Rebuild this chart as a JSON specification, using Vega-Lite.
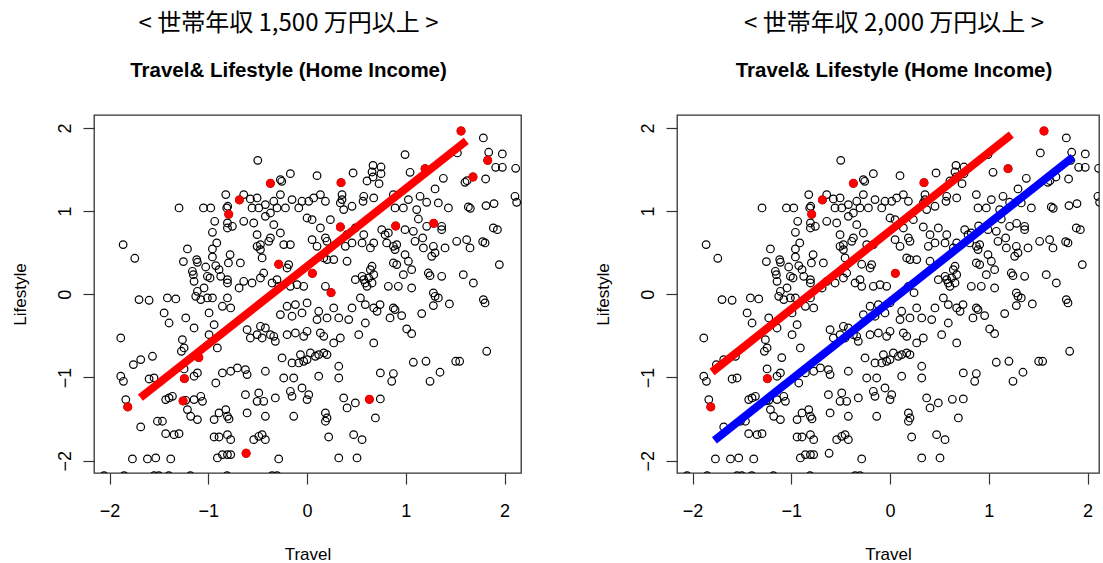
{
  "$schema": "https://vega.github.io/schema/vega-lite/v6.json",
  "background": "white",
  "padding": {"left": 10, "top": 10, "right": 0, "bottom": 0},
  "spacing": 71,
  "config": {
    "view": {"stroke": "#333", "strokeWidth": 1.3},
    "axis": {"grid": false, "domain": false, "tickSize": 11, "tickColor": "#333", "tickWidth": 1.2, "labelFont": "Liberation Sans", "labelFontSize": 18, "labelColor": "#000", "titleFont": "Liberation Sans", "titleFontSize": 17, "titleFontWeight": "normal", "titleColor": "#000"},
    "axisX": {"labelPadding": 18, "titlePadding": 26},
    "axisY": {"labelAngle": -90, "labelAlign": "center", "labelBaseline": "alphabetic", "labelPadding": 13, "titlePadding": 27},
    "title": {"font": "Noto Sans CJK JP", "fontSize": 24, "fontWeight": "normal", "color": "#000", "subtitleFont": "Liberation Sans", "subtitleFontSize": 20.5, "subtitleFontWeight": "bold", "subtitleColor": "#000", "subtitlePadding": 25, "offset": 34, "anchor": "middle"}
  },
  "datasets": {
    "fits": [
      {"panel": "1500", "line": "subset", "Travel": -1.687, "Lifestyle": -1.243},
      {"panel": "1500", "line": "subset", "Travel": 1.612, "Lifestyle": 1.843},
      {"panel": "2000", "line": "subset", "Travel": -1.802, "Lifestyle": -0.934},
      {"panel": "2000", "line": "subset", "Travel": 1.228, "Lifestyle": 1.920},
      {"panel": "2000", "line": "overall", "Travel": -1.778, "Lifestyle": -1.755},
      {"panel": "2000", "line": "overall", "Travel": 1.852, "Lifestyle": 1.650}
    ],
    "pts": [
      {"Travel":1.785,"Lifestyle":1.879,"grp":"base"},{"Travel":1.522,"Lifestyle":1.699,"grp":"base"},{"Travel":1.839,"Lifestyle":1.707,"grp":"base"},{"Travel":1.977,"Lifestyle":1.687,"grp":"base"},{"Travel":1.910,"Lifestyle":1.526,"grp":"base"},{"Travel":1.977,"Lifestyle":1.526,"grp":"base"},{"Travel":2.112,"Lifestyle":1.514,"grp":"base"},{"Travel":1.808,"Lifestyle":1.386,"grp":"base"},{"Travel":1.620,"Lifestyle":1.366,"grp":"base"},{"Travel":1.599,"Lifestyle":1.346,"grp":"base"},{"Travel":0.992,"Lifestyle":1.679,"grp":"base"},{"Travel":-0.499,"Lifestyle":1.610,"grp":"base"},{"Travel":0.668,"Lifestyle":1.550,"grp":"base"},{"Travel":0.749,"Lifestyle":1.530,"grp":"base"},{"Travel":0.658,"Lifestyle":1.470,"grp":"base"},{"Travel":0.749,"Lifestyle":1.450,"grp":"base"},{"Travel":0.668,"Lifestyle":1.410,"grp":"base"},{"Travel":0.607,"Lifestyle":1.362,"grp":"base"},{"Travel":0.729,"Lifestyle":1.330,"grp":"base"},{"Travel":0.466,"Lifestyle":1.458,"grp":"base"},{"Travel":1.043,"Lifestyle":1.466,"grp":"base"},{"Travel":-0.169,"Lifestyle":1.450,"grp":"base"},{"Travel":0.101,"Lifestyle":1.426,"grp":"base"},{"Travel":-0.270,"Lifestyle":1.378,"grp":"base"},{"Travel":-0.256,"Lifestyle":1.358,"grp":"base"},{"Travel":1.380,"Lifestyle":1.394,"grp":"base"},
      {"Travel":1.296,"Lifestyle":1.266,"grp":"base"},{"Travel":-0.823,"Lifestyle":1.198,"grp":"base"},{"Travel":-0.641,"Lifestyle":1.198,"grp":"base"},{"Travel":-0.574,"Lifestyle":1.146,"grp":"base"},{"Travel":-0.506,"Lifestyle":1.158,"grp":"base"},{"Travel":-0.337,"Lifestyle":1.118,"grp":"base"},{"Travel":-0.270,"Lifestyle":1.198,"grp":"base"},{"Travel":-0.152,"Lifestyle":1.138,"grp":"base"},{"Travel":-0.051,"Lifestyle":1.118,"grp":"base"},{"Travel":0.017,"Lifestyle":1.118,"grp":"base"},{"Travel":0.067,"Lifestyle":1.158,"grp":"base"},{"Travel":0.135,"Lifestyle":1.198,"grp":"base"},{"Travel":0.186,"Lifestyle":1.118,"grp":"base"},{"Travel":0.354,"Lifestyle":1.198,"grp":"base"},{"Travel":0.354,"Lifestyle":1.138,"grp":"base"},{"Travel":0.337,"Lifestyle":1.098,"grp":"base"},{"Travel":0.574,"Lifestyle":1.178,"grp":"base"},{"Travel":0.567,"Lifestyle":1.118,"grp":"base"},{"Travel":0.675,"Lifestyle":1.158,"grp":"base"},{"Travel":0.874,"Lifestyle":1.198,"grp":"base"},{"Travel":1.144,"Lifestyle":1.178,"grp":"base"},{"Travel":1.026,"Lifestyle":1.138,"grp":"base"},{"Travel":1.211,"Lifestyle":1.106,"grp":"base"},{"Travel":1.329,"Lifestyle":1.098,"grp":"base"},{"Travel":2.105,"Lifestyle":1.178,"grp":"base"},{"Travel":2.122,"Lifestyle":1.106,"grp":"base"},{"Travel":-1.296,"Lifestyle":1.038,"grp":"base"},{"Travel":-1.049,"Lifestyle":1.038,"grp":"base"},{"Travel":-0.975,"Lifestyle":1.038,"grp":"base"},{"Travel":-0.813,"Lifestyle":1.038,"grp":"base"},{"Travel":-0.803,"Lifestyle":1.058,"grp":"base"},{"Travel":-0.557,"Lifestyle":1.038,"grp":"base"},{"Travel":-0.489,"Lifestyle":1.038,"grp":"base"},{"Travel":-0.422,"Lifestyle":1.078,"grp":"base"},{"Travel":-0.304,"Lifestyle":1.038,"grp":"base"},{"Travel":-0.219,"Lifestyle":1.038,"grp":"base"},{"Travel":-0.084,"Lifestyle":1.038,"grp":"base"},{"Travel":0.371,"Lifestyle":1.018,"grp":"base"},{"Travel":0.455,"Lifestyle":1.058,"grp":"base"},{"Travel":0.891,"Lifestyle":1.038,"grp":"base"},{"Travel":0.975,"Lifestyle":1.038,"grp":"base"},{"Travel":1.110,"Lifestyle":1.018,"grp":"base"},{"Travel":1.431,"Lifestyle":1.038,"grp":"base"},{"Travel":1.633,"Lifestyle":1.050,"grp":"base"},{"Travel":1.653,"Lifestyle":1.034,"grp":"base"},{"Travel":1.812,"Lifestyle":1.066,"grp":"base"},{"Travel":1.893,"Lifestyle":1.090,"grp":"base"},{"Travel":-0.371,"Lifestyle":0.977,"grp":"base"},{"Travel":-0.935,"Lifestyle":0.877,"grp":"base"},{"Travel":-0.806,"Lifestyle":0.857,"grp":"base"},{"Travel":-0.756,"Lifestyle":0.817,"grp":"base"},{"Travel":-0.806,"Lifestyle":0.797,"grp":"base"},{"Travel":-0.641,"Lifestyle":0.877,"grp":"base"},{"Travel":-0.540,"Lifestyle":0.857,"grp":"base"},{"Travel":-0.422,"Lifestyle":0.937,"grp":"base"},{"Travel":-0.337,"Lifestyle":0.837,"grp":"base"},{"Travel":0.000,"Lifestyle":0.917,"grp":"base"},{"Travel":0.051,"Lifestyle":0.897,"grp":"base"},{"Travel":0.236,"Lifestyle":0.897,"grp":"base"},{"Travel":0.135,"Lifestyle":0.797,"grp":"base"},{"Travel":0.489,"Lifestyle":0.797,"grp":"base"},{"Travel":1.127,"Lifestyle":0.905,"grp":"base"},{"Travel":1.211,"Lifestyle":0.817,"grp":"base"},{"Travel":1.363,"Lifestyle":0.817,"grp":"base"},{"Travel":1.363,"Lifestyle":0.777,"grp":"base"},{"Travel":0.756,"Lifestyle":0.777,"grp":"base"},{"Travel":0.823,"Lifestyle":0.737,"grp":"base"},{"Travel":0.992,"Lifestyle":0.777,"grp":"base"},{"Travel":1.076,"Lifestyle":0.757,"grp":"base"},{"Travel":1.886,"Lifestyle":0.797,"grp":"base"},{"Travel":1.927,"Lifestyle":0.777,"grp":"base"},{"Travel":-0.958,"Lifestyle":0.745,"grp":"base"},
      {"Travel":-0.506,"Lifestyle":0.717,"grp":"base"},{"Travel":-0.270,"Lifestyle":0.737,"grp":"base"},{"Travel":-0.371,"Lifestyle":0.677,"grp":"base"},{"Travel":-0.388,"Lifestyle":0.637,"grp":"base"},{"Travel":-0.236,"Lifestyle":0.597,"grp":"base"},{"Travel":-0.169,"Lifestyle":0.597,"grp":"base"},{"Travel":-0.472,"Lifestyle":0.597,"grp":"base"},{"Travel":-0.506,"Lifestyle":0.577,"grp":"base"},{"Travel":-0.472,"Lifestyle":0.537,"grp":"base"},{"Travel":-0.455,"Lifestyle":0.437,"grp":"base"},{"Travel":0.051,"Lifestyle":0.657,"grp":"base"},{"Travel":0.101,"Lifestyle":0.577,"grp":"base"},{"Travel":0.186,"Lifestyle":0.677,"grp":"base"},{"Travel":0.202,"Lifestyle":0.637,"grp":"base"},{"Travel":0.405,"Lifestyle":0.717,"grp":"base"},{"Travel":0.388,"Lifestyle":0.577,"grp":"base"},{"Travel":0.455,"Lifestyle":0.617,"grp":"base"},{"Travel":0.574,"Lifestyle":0.717,"grp":"base"},{"Travel":0.557,"Lifestyle":0.617,"grp":"base"},{"Travel":0.675,"Lifestyle":0.617,"grp":"base"},{"Travel":0.641,"Lifestyle":0.557,"grp":"base"},{"Travel":0.790,"Lifestyle":0.717,"grp":"base"},{"Travel":0.806,"Lifestyle":0.617,"grp":"base"},{"Travel":0.874,"Lifestyle":0.577,"grp":"base"},{"Travel":0.908,"Lifestyle":0.597,"grp":"base"},{"Travel":0.891,"Lifestyle":0.537,"grp":"base"},{"Travel":0.992,"Lifestyle":0.477,"grp":"base"},{"Travel":1.171,"Lifestyle":0.677,"grp":"base"},{"Travel":1.093,"Lifestyle":0.637,"grp":"base"},{"Travel":1.178,"Lifestyle":0.557,"grp":"base"},{"Travel":1.279,"Lifestyle":0.577,"grp":"base"},{"Travel":1.397,"Lifestyle":0.557,"grp":"base"},{"Travel":1.262,"Lifestyle":0.457,"grp":"base"},{"Travel":1.296,"Lifestyle":0.497,"grp":"base"},{"Travel":1.515,"Lifestyle":0.637,"grp":"base"},{"Travel":1.616,"Lifestyle":0.657,"grp":"base"},{"Travel":1.650,"Lifestyle":0.557,"grp":"base"},{"Travel":1.802,"Lifestyle":0.617,"grp":"base"},{"Travel":1.778,"Lifestyle":0.633,"grp":"base"},{"Travel":-1.862,"Lifestyle":0.597,"grp":"base"},{"Travel":-1.744,"Lifestyle":0.433,"grp":"base"},{"Travel":-1.211,"Lifestyle":0.545,"grp":"base"},{"Travel":-0.958,"Lifestyle":0.545,"grp":"base"},{"Travel":-0.914,"Lifestyle":0.617,"grp":"base"},{"Travel":-1.252,"Lifestyle":0.393,"grp":"base"},{"Travel":-1.117,"Lifestyle":0.417,"grp":"base"},{"Travel":-1.110,"Lifestyle":0.385,"grp":"base"},{"Travel":-0.958,"Lifestyle":0.449,"grp":"base"},{"Travel":-0.779,"Lifestyle":0.477,"grp":"base"},{"Travel":-1.026,"Lifestyle":0.328,"grp":"base"},{"Travel":-0.924,"Lifestyle":0.345,"grp":"base"},{"Travel":-0.891,"Lifestyle":0.296,"grp":"base"},{"Travel":-1.009,"Lifestyle":0.216,"grp":"base"},{"Travel":-1.161,"Lifestyle":0.276,"grp":"base"},{"Travel":-1.151,"Lifestyle":0.236,"grp":"base"},{"Travel":-1.144,"Lifestyle":0.156,"grp":"base"},{"Travel":-0.796,"Lifestyle":0.377,"grp":"base"},{"Travel":-0.874,"Lifestyle":0.216,"grp":"base"},{"Travel":-0.806,"Lifestyle":0.176,"grp":"base"},{"Travel":-0.806,"Lifestyle":0.136,"grp":"base"},{"Travel":-0.982,"Lifestyle":0.196,"grp":"base"},{"Travel":-1.043,"Lifestyle":0.076,"grp":"base"},{"Travel":-1.110,"Lifestyle":0.036,"grp":"base"},{"Travel":-0.688,"Lifestyle":0.076,"grp":"base"},{"Travel":-0.675,"Lifestyle":0.377,"grp":"base"},{"Travel":-0.641,"Lifestyle":0.156,"grp":"base"},{"Travel":-0.557,"Lifestyle":0.136,"grp":"base"},{"Travel":-0.472,"Lifestyle":0.196,"grp":"base"},{"Travel":-0.439,"Lifestyle":0.256,"grp":"base"},{"Travel":-0.354,"Lifestyle":0.136,"grp":"base"},{"Travel":-0.304,"Lifestyle":0.176,"grp":"base"},{"Travel":-0.287,"Lifestyle":0.096,"grp":"base"},{"Travel":-0.169,"Lifestyle":0.096,"grp":"base"},{"Travel":-0.101,"Lifestyle":0.116,"grp":"base"},{"Travel":-0.034,"Lifestyle":0.096,"grp":"base"},{"Travel":-0.186,"Lifestyle":0.357,"grp":"base"},{"Travel":-0.202,"Lifestyle":0.316,"grp":"base"},{"Travel":0.169,"Lifestyle":0.437,"grp":"base"},{"Travel":0.202,"Lifestyle":0.417,"grp":"base"},{"Travel":0.270,"Lifestyle":0.417,"grp":"base"},{"Travel":0.405,"Lifestyle":0.397,"grp":"base"},{"Travel":0.186,"Lifestyle":0.096,"grp":"base"},{"Travel":0.489,"Lifestyle":0.176,"grp":"base"},{"Travel":0.557,"Lifestyle":0.216,"grp":"base"},{"Travel":0.574,"Lifestyle":0.176,"grp":"base"},{"Travel":0.590,"Lifestyle":0.136,"grp":"base"},{"Travel":0.658,"Lifestyle":0.337,"grp":"base"},{"Travel":0.641,"Lifestyle":0.296,"grp":"base"},{"Travel":0.675,"Lifestyle":0.236,"grp":"base"},{"Travel":0.624,"Lifestyle":0.196,"grp":"base"},{"Travel":0.658,"Lifestyle":0.136,"grp":"base"},{"Travel":0.607,"Lifestyle":0.096,"grp":"base"},{"Travel":0.874,"Lifestyle":0.377,"grp":"base"},{"Travel":0.908,"Lifestyle":0.357,"grp":"base"},{"Travel":0.975,"Lifestyle":0.236,"grp":"base"},{"Travel":1.026,"Lifestyle":0.397,"grp":"base"},{"Travel":1.059,"Lifestyle":0.296,"grp":"base"},{"Travel":1.228,"Lifestyle":0.256,"grp":"base"},{"Travel":1.245,"Lifestyle":0.224,"grp":"base"},{"Travel":1.363,"Lifestyle":0.216,"grp":"base"},{"Travel":1.582,"Lifestyle":0.236,"grp":"base"},{"Travel":1.684,"Lifestyle":0.136,"grp":"base"},{"Travel":1.947,"Lifestyle":0.357,"grp":"base"},{"Travel":0.823,"Lifestyle":0.096,"grp":"base"},{"Travel":0.924,"Lifestyle":0.096,"grp":"base"},{"Travel":1.059,"Lifestyle":0.076,"grp":"base"},{"Travel":1.279,"Lifestyle":0.016,"grp":"base"},
      {"Travel":-1.701,"Lifestyle":-0.064,"grp":"base"},{"Travel":-1.599,"Lifestyle":-0.072,"grp":"base"},{"Travel":-1.414,"Lifestyle":-0.044,"grp":"base"},{"Travel":-1.329,"Lifestyle":-0.056,"grp":"base"},{"Travel":-1.447,"Lifestyle":-0.224,"grp":"base"},{"Travel":-1.397,"Lifestyle":-0.345,"grp":"base"},{"Travel":-1.228,"Lifestyle":-0.284,"grp":"base"},{"Travel":-1.144,"Lifestyle":-0.405,"grp":"base"},{"Travel":-1.127,"Lifestyle":-0.024,"grp":"base"},{"Travel":-1.076,"Lifestyle":-0.064,"grp":"base"},{"Travel":-1.009,"Lifestyle":-0.044,"grp":"base"},{"Travel":-0.958,"Lifestyle":-0.044,"grp":"base"},{"Travel":-0.992,"Lifestyle":-0.224,"grp":"base"},{"Travel":-0.941,"Lifestyle":-0.365,"grp":"base"},{"Travel":-0.857,"Lifestyle":-0.144,"grp":"base"},{"Travel":-0.806,"Lifestyle":-0.044,"grp":"base"},{"Travel":-0.773,"Lifestyle":-0.164,"grp":"base"},{"Travel":-0.270,"Lifestyle":-0.244,"grp":"base"},{"Travel":-0.202,"Lifestyle":-0.144,"grp":"base"},{"Travel":-0.118,"Lifestyle":-0.124,"grp":"base"},{"Travel":-0.152,"Lifestyle":-0.264,"grp":"base"},{"Travel":-0.051,"Lifestyle":-0.224,"grp":"base"},{"Travel":0.000,"Lifestyle":-0.104,"grp":"base"},{"Travel":0.118,"Lifestyle":-0.204,"grp":"base"},{"Travel":0.101,"Lifestyle":-0.304,"grp":"base"},{"Travel":0.202,"Lifestyle":-0.284,"grp":"base"},{"Travel":0.270,"Lifestyle":-0.164,"grp":"base"},{"Travel":0.321,"Lifestyle":-0.284,"grp":"base"},{"Travel":0.455,"Lifestyle":-0.164,"grp":"base"},{"Travel":0.422,"Lifestyle":-0.304,"grp":"base"},{"Travel":0.540,"Lifestyle":-0.044,"grp":"base"},{"Travel":0.590,"Lifestyle":-0.124,"grp":"base"},{"Travel":0.675,"Lifestyle":-0.164,"grp":"base"},{"Travel":0.709,"Lifestyle":-0.204,"grp":"base"},{"Travel":0.590,"Lifestyle":-0.345,"grp":"base"},{"Travel":-0.607,"Lifestyle":-0.425,"grp":"base"},{"Travel":-0.574,"Lifestyle":-0.525,"grp":"base"},{"Travel":-0.506,"Lifestyle":-0.485,"grp":"base"},{"Travel":-0.472,"Lifestyle":-0.385,"grp":"base"},{"Travel":-0.455,"Lifestyle":-0.525,"grp":"base"},{"Travel":-0.422,"Lifestyle":-0.405,"grp":"base"},{"Travel":-0.371,"Lifestyle":-0.485,"grp":"base"},{"Travel":-0.337,"Lifestyle":-0.505,"grp":"base"},{"Travel":-0.321,"Lifestyle":-0.565,"grp":"base"},{"Travel":-0.202,"Lifestyle":-0.485,"grp":"base"},{"Travel":-0.118,"Lifestyle":-0.465,"grp":"base"},{"Travel":-0.034,"Lifestyle":-0.505,"grp":"base"},{"Travel":0.000,"Lifestyle":-0.445,"grp":"base"},{"Travel":0.135,"Lifestyle":-0.465,"grp":"base"},{"Travel":0.169,"Lifestyle":-0.505,"grp":"base"},{"Travel":0.270,"Lifestyle":-0.585,"grp":"base"},{"Travel":0.337,"Lifestyle":-0.525,"grp":"base"},{"Travel":0.523,"Lifestyle":-0.485,"grp":"base"},{"Travel":0.675,"Lifestyle":-0.585,"grp":"base"},{"Travel":0.874,"Lifestyle":-0.164,"grp":"base"},{"Travel":0.891,"Lifestyle":-0.184,"grp":"base"},{"Travel":0.840,"Lifestyle":-0.284,"grp":"base"},{"Travel":0.958,"Lifestyle":-0.256,"grp":"base"},{"Travel":1.009,"Lifestyle":-0.417,"grp":"base"},{"Travel":1.059,"Lifestyle":-0.473,"grp":"base"},{"Travel":1.161,"Lifestyle":-0.232,"grp":"base"},{"Travel":1.296,"Lifestyle":-0.024,"grp":"base"},{"Travel":1.329,"Lifestyle":-0.044,"grp":"base"},{"Travel":1.279,"Lifestyle":-0.136,"grp":"base"},{"Travel":1.441,"Lifestyle":-0.116,"grp":"base"},{"Travel":1.785,"Lifestyle":-0.064,"grp":"base"},{"Travel":1.802,"Lifestyle":-0.104,"grp":"base"},{"Travel":0.739,"Lifestyle":-0.124,"grp":"base"},
      {"Travel":-1.886,"Lifestyle":-0.525,"grp":"base"},{"Travel":-1.262,"Lifestyle":-0.545,"grp":"base"},{"Travel":-1.245,"Lifestyle":-0.645,"grp":"base"},{"Travel":-1.272,"Lifestyle":-0.685,"grp":"base"},{"Travel":-0.992,"Lifestyle":-0.485,"grp":"base"},{"Travel":-0.908,"Lifestyle":-0.645,"grp":"base"},{"Travel":-1.565,"Lifestyle":-0.745,"grp":"base"},{"Travel":-1.684,"Lifestyle":-0.785,"grp":"base"},{"Travel":-1.758,"Lifestyle":-0.845,"grp":"base"},{"Travel":-1.886,"Lifestyle":-0.985,"grp":"base"},{"Travel":-1.859,"Lifestyle":-1.046,"grp":"base"},{"Travel":-1.599,"Lifestyle":-1.018,"grp":"base"},{"Travel":-1.549,"Lifestyle":-1.006,"grp":"base"},{"Travel":-1.245,"Lifestyle":-0.897,"grp":"base"},{"Travel":-1.144,"Lifestyle":-0.985,"grp":"base"},{"Travel":-1.110,"Lifestyle":-0.945,"grp":"base"},{"Travel":-0.857,"Lifestyle":-0.945,"grp":"base"},{"Travel":-0.773,"Lifestyle":-0.925,"grp":"base"},{"Travel":-0.705,"Lifestyle":-0.885,"grp":"base"},{"Travel":-0.924,"Lifestyle":-1.066,"grp":"base"},{"Travel":-0.253,"Lifestyle":-0.765,"grp":"base"},{"Travel":-0.152,"Lifestyle":-0.825,"grp":"base"},{"Travel":-0.084,"Lifestyle":-0.825,"grp":"base"},{"Travel":-0.067,"Lifestyle":-0.725,"grp":"base"},{"Travel":-0.034,"Lifestyle":-0.805,"grp":"base"},{"Travel":0.000,"Lifestyle":-0.785,"grp":"base"},{"Travel":0.034,"Lifestyle":-0.705,"grp":"base"},{"Travel":0.084,"Lifestyle":-0.745,"grp":"base"},{"Travel":0.118,"Lifestyle":-0.725,"grp":"base"},{"Travel":0.169,"Lifestyle":-0.705,"grp":"base"},{"Travel":0.202,"Lifestyle":-0.725,"grp":"base"},{"Travel":0.321,"Lifestyle":-0.865,"grp":"base"},{"Travel":0.321,"Lifestyle":-1.006,"grp":"base"},{"Travel":-0.624,"Lifestyle":-0.905,"grp":"base"},{"Travel":-0.607,"Lifestyle":-0.965,"grp":"base"},{"Travel":-0.422,"Lifestyle":-0.925,"grp":"base"},{"Travel":-0.236,"Lifestyle":-1.006,"grp":"base"},{"Travel":-0.135,"Lifestyle":-1.006,"grp":"base"},{"Travel":0.118,"Lifestyle":-0.985,"grp":"base"},{"Travel":0.742,"Lifestyle":-0.945,"grp":"base"},{"Travel":0.874,"Lifestyle":-0.953,"grp":"base"},{"Travel":0.857,"Lifestyle":-1.046,"grp":"base"},{"Travel":1.245,"Lifestyle":-1.046,"grp":"base"},{"Travel":1.346,"Lifestyle":-0.937,"grp":"base"},{"Travel":1.076,"Lifestyle":-0.817,"grp":"base"},{"Travel":1.204,"Lifestyle":-0.805,"grp":"base"},{"Travel":1.505,"Lifestyle":-0.805,"grp":"base"},{"Travel":1.545,"Lifestyle":-0.805,"grp":"base"},{"Travel":1.819,"Lifestyle":-0.685,"grp":"base"},
      {"Travel":-1.835,"Lifestyle":-1.266,"grp":"base"},{"Travel":-1.431,"Lifestyle":-1.266,"grp":"base"},{"Travel":-1.397,"Lifestyle":-1.246,"grp":"base"},{"Travel":-1.363,"Lifestyle":-1.226,"grp":"base"},{"Travel":-1.228,"Lifestyle":-1.274,"grp":"base"},{"Travel":-1.144,"Lifestyle":-1.266,"grp":"base"},{"Travel":-1.076,"Lifestyle":-1.226,"grp":"base"},{"Travel":-1.059,"Lifestyle":-1.286,"grp":"base"},{"Travel":-1.211,"Lifestyle":-1.386,"grp":"base"},{"Travel":-1.178,"Lifestyle":-1.466,"grp":"base"},{"Travel":-1.110,"Lifestyle":-1.506,"grp":"base"},{"Travel":-0.941,"Lifestyle":-1.506,"grp":"base"},{"Travel":-0.891,"Lifestyle":-1.426,"grp":"base"},{"Travel":-0.823,"Lifestyle":-1.386,"grp":"base"},{"Travel":-0.806,"Lifestyle":-1.466,"grp":"base"},{"Travel":-0.790,"Lifestyle":-1.498,"grp":"base"},{"Travel":-0.624,"Lifestyle":-1.206,"grp":"base"},{"Travel":-0.489,"Lifestyle":-1.186,"grp":"base"},{"Travel":-0.506,"Lifestyle":-1.286,"grp":"base"},{"Travel":-0.439,"Lifestyle":-1.286,"grp":"base"},{"Travel":-0.321,"Lifestyle":-1.246,"grp":"base"},{"Travel":-0.169,"Lifestyle":-1.166,"grp":"base"},{"Travel":-0.152,"Lifestyle":-1.226,"grp":"base"},{"Travel":-0.051,"Lifestyle":-1.126,"grp":"base"},{"Travel":0.017,"Lifestyle":-1.206,"grp":"base"},{"Travel":0.000,"Lifestyle":-1.266,"grp":"base"},{"Travel":0.371,"Lifestyle":-1.246,"grp":"base"},{"Travel":0.405,"Lifestyle":-1.366,"grp":"base"},{"Travel":0.489,"Lifestyle":-1.306,"grp":"base"},{"Travel":0.742,"Lifestyle":-1.258,"grp":"base"},{"Travel":-0.607,"Lifestyle":-1.426,"grp":"base"},{"Travel":-0.422,"Lifestyle":-1.466,"grp":"base"},{"Travel":-0.135,"Lifestyle":-1.466,"grp":"base"},{"Travel":0.186,"Lifestyle":-1.426,"grp":"base"},{"Travel":0.202,"Lifestyle":-1.486,"grp":"base"},{"Travel":0.186,"Lifestyle":-1.526,"grp":"base"},{"Travel":0.692,"Lifestyle":-1.486,"grp":"base"},{"Travel":-1.684,"Lifestyle":-1.594,"grp":"base"},{"Travel":-1.515,"Lifestyle":-1.526,"grp":"base"},{"Travel":-1.464,"Lifestyle":-1.526,"grp":"base"},{"Travel":-1.431,"Lifestyle":-1.675,"grp":"base"},{"Travel":-1.346,"Lifestyle":-1.687,"grp":"base"},{"Travel":-1.296,"Lifestyle":-1.675,"grp":"base"},
      {"Travel":-0.941,"Lifestyle":-1.715,"grp":"base"},{"Travel":-0.891,"Lifestyle":-1.715,"grp":"base"},{"Travel":-0.806,"Lifestyle":-1.687,"grp":"base"},{"Travel":-0.773,"Lifestyle":-1.747,"grp":"base"},{"Travel":-0.540,"Lifestyle":-1.747,"grp":"base"},{"Travel":-0.489,"Lifestyle":-1.707,"grp":"base"},{"Travel":-0.455,"Lifestyle":-1.687,"grp":"base"},{"Travel":-0.422,"Lifestyle":-1.747,"grp":"base"},{"Travel":0.219,"Lifestyle":-1.715,"grp":"base"},{"Travel":0.472,"Lifestyle":-1.687,"grp":"base"},{"Travel":0.557,"Lifestyle":-1.747,"grp":"base"},{"Travel":-1.768,"Lifestyle":-1.979,"grp":"base"},{"Travel":-1.616,"Lifestyle":-1.979,"grp":"base"},{"Travel":-1.532,"Lifestyle":-1.967,"grp":"base"},{"Travel":-1.380,"Lifestyle":-1.979,"grp":"base"},{"Travel":-0.908,"Lifestyle":-1.967,"grp":"base"},{"Travel":-0.857,"Lifestyle":-1.927,"grp":"base"},{"Travel":-0.806,"Lifestyle":-1.927,"grp":"base"},{"Travel":-0.773,"Lifestyle":-1.927,"grp":"base"},{"Travel":-0.287,"Lifestyle":-1.979,"grp":"base"},{"Travel":0.321,"Lifestyle":-1.967,"grp":"base"},{"Travel":0.506,"Lifestyle":-1.967,"grp":"base"},{"Travel":-2.055,"Lifestyle":-2.18,"grp":"base"},{"Travel":-1.852,"Lifestyle":-2.18,"grp":"base"},{"Travel":-1.549,"Lifestyle":-2.18,"grp":"base"},{"Travel":-1.501,"Lifestyle":-2.18,"grp":"base"},{"Travel":-1.400,"Lifestyle":-2.18,"grp":"base"},{"Travel":-1.181,"Lifestyle":-2.18,"grp":"base"},{"Travel":-0.810,"Lifestyle":-2.18,"grp":"base"},{"Travel":-0.354,"Lifestyle":-2.18,"grp":"base"},{"Travel":-0.304,"Lifestyle":-2.18,"grp":"base"},
      {"Travel":1.559,"Lifestyle":1.963,"grp":"2000"},{"Travel":1.829,"Lifestyle":1.611,"grp":"1500"},{"Travel":1.680,"Lifestyle":1.410,"grp":"1500"},{"Travel":-0.371,"Lifestyle":1.334,"grp":"2000"},{"Travel":0.344,"Lifestyle":1.342,"grp":"2000"},{"Travel":-0.685,"Lifestyle":1.134,"grp":"2000"},{"Travel":-0.793,"Lifestyle":0.962,"grp":"2000"},{"Travel":0.337,"Lifestyle":0.809,"grp":"1500"},{"Travel":0.897,"Lifestyle":0.821,"grp":"1500"},{"Travel":1.282,"Lifestyle":0.853,"grp":"1500"},{"Travel":-0.287,"Lifestyle":0.361,"grp":"1500"},{"Travel":0.054,"Lifestyle":0.252,"grp":"2000"},{"Travel":0.243,"Lifestyle":0.020,"grp":"1500"},{"Travel":-1.096,"Lifestyle":-0.761,"grp":"1500"},{"Travel":-1.242,"Lifestyle":-1.014,"grp":"2000"},{"Travel":-1.255,"Lifestyle":-1.282,"grp":"1500"},{"Travel":-1.815,"Lifestyle":-1.354,"grp":"2000"},{"Travel":0.631,"Lifestyle":-1.262,"grp":"1500"},{"Travel":-0.617,"Lifestyle":-1.911,"grp":"1500"},{"Travel":1.195,"Lifestyle":1.510,"grp":"2000"}
    ]
  },
  "hconcat": [
    {
      "width": 427,
      "height": 358,
      "title": {"text": "< 世帯年収 1,500 万円以上 >", "subtitle": "Travel& Lifestyle (Home Income)", "dx": -19},
      "encoding": {
        "x": {"field": "Travel", "type": "quantitative", "scale": {"domain": [-2.157, 2.166], "nice": false, "zero": false}, "axis": {"values": [-2, -1, 0, 1, 2], "title": "Travel"}},
        "y": {"field": "Lifestyle", "type": "quantitative", "scale": {"domain": [-2.148, 2.155], "nice": false, "zero": false}, "axis": {"values": [-2, -1, 0, 1, 2], "title": "Lifestyle"}}
      },
      "layer": [
        {"data": {"name": "pts"}, "mark": {"type": "point", "shape": "circle", "filled": false, "color": "#000", "strokeWidth": 1.2, "size": 58, "opacity": 1, "clip": true}},
        {"data": {"name": "pts"}, "transform": [{"filter": "datum.grp !== 'base'"}], "mark": {"type": "circle", "color": "#ff0000", "size": 80, "opacity": 1, "clip": true}},
        {"data": {"name": "fits"}, "transform": [{"filter": "datum.panel === '1500'"}], "mark": {"type": "line", "strokeWidth": 8, "strokeCap": "butt", "clip": true},
         "encoding": {"color": {"field": "line", "type": "nominal", "scale": {"domain": ["subset", "overall"], "range": ["#ff0000", "#0000ff"]}, "legend": null}}}
      ]
    },
    {
      "width": 422,
      "height": 358,
      "title": {"text": "< 世帯年収 2,000 万円以上 >", "subtitle": "Travel& Lifestyle (Home Income)", "dx": 6},
      "encoding": {
        "x": {"field": "Travel", "type": "quantitative", "scale": {"domain": [-2.157, 2.116], "nice": false, "zero": false}, "axis": {"values": [-2, -1, 0, 1, 2], "title": "Travel"}},
        "y": {"field": "Lifestyle", "type": "quantitative", "scale": {"domain": [-2.148, 2.155], "nice": false, "zero": false}, "axis": {"values": [-2, -1, 0, 1, 2], "title": "Lifestyle"}}
      },
      "layer": [
        {"data": {"name": "pts"}, "mark": {"type": "point", "shape": "circle", "filled": false, "color": "#000", "strokeWidth": 1.2, "size": 58, "opacity": 1, "clip": true}},
        {"data": {"name": "pts"}, "transform": [{"filter": "datum.grp === '2000'"}], "mark": {"type": "circle", "color": "#ff0000", "size": 80, "opacity": 1, "clip": true}},
        {"data": {"name": "fits"}, "transform": [{"filter": "datum.panel === '2000'"}], "mark": {"type": "line", "strokeWidth": 8, "strokeCap": "butt", "clip": true},
         "encoding": {"color": {"field": "line", "type": "nominal", "scale": {"domain": ["subset", "overall"], "range": ["#ff0000", "#0000ff"]}, "legend": null}}}
      ]
    }
  ]
}
